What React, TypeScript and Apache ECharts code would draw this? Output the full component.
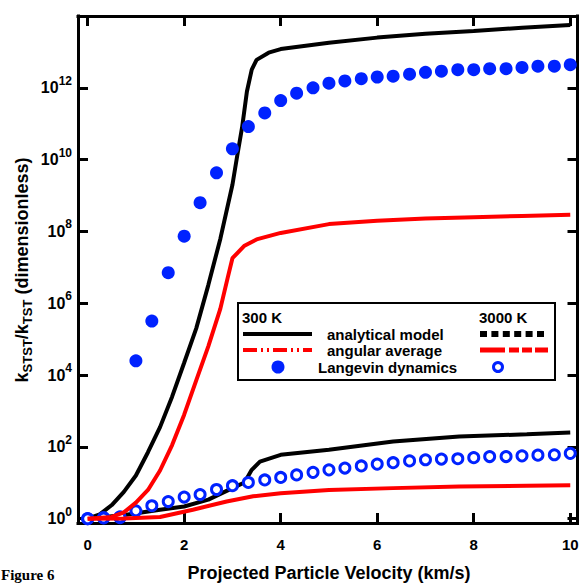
import React, { useEffect, useRef } from "react";
import * as echarts from "echarts";

// ---------- data ----------
const xTickValues = [0, 2, 4, 6, 8, 10];
const yTickExponents = [0, 2, 4, 6, 8, 10, 12];

// 300 K analytical model (black solid)
const analytical300X = [0, 0.25, 0.5, 0.75, 1.0, 1.25, 1.5, 1.75, 2.0, 2.25, 2.5, 2.75, 3.0, 3.1, 3.2, 3.3, 3.4, 3.5, 3.75, 4, 5, 6, 7, 8, 9, 10];
const analytical300Y = [1, 1.32, 2.4, 5.6, 16, 71, 355, 2.5e3, 2.2e4, 2.0e5, 3.2e6, 6.3e7, 2.0e9, 1.3e10, 7.9e10, 7.9e11, 3.2e12, 6.0e12, 9.5e12, 1.2e13, 1.8e13, 2.5e13, 3.2e13, 3.8e13, 4.7e13, 5.6e13];

// 300 K angular average (red)
const angular300X = [0, 0.5, 0.75, 1.0, 1.25, 1.5, 1.75, 2.0, 2.25, 2.5, 2.75, 2.9, 3.0, 3.25, 3.5, 4, 5, 6, 7, 8, 9, 10];
const angular300Y = [1, 1.12, 1.5, 2.8, 6.3, 22, 112, 790, 7.1e3, 6.3e4, 7.1e5, 5.0e6, 1.8e7, 4.0e7, 6.0e7, 9.1e7, 1.6e8, 2.0e8, 2.3e8, 2.5e8, 2.7e8, 2.9e8];

// 3000 K analytical model (black)
const analytical3000X = [0, 0.8, 1.5, 2.0, 2.5, 3.0, 3.25, 3.4, 3.57, 4.0, 5.0, 6.33, 7.7, 9.1, 10];
const analytical3000Y = [1, 1.29, 1.78, 2.19, 3.39, 7.1, 10.2, 22.9, 38.9, 60, 83, 141, 195, 224, 251];

// 3000 K angular average (red)
const angular3000X = [0, 0.75, 1.5, 2.18, 2.88, 3.43, 4.0, 5.0, 6.33, 7.7, 9.1, 10];
const angular3000Y = [1, 1.02, 1.12, 1.78, 3.0, 4.2, 5.1, 6.3, 7.1, 7.9, 8.3, 8.5];

// Langevin dynamics (blue markers)
const langevinX = [0, 0.33, 0.67, 1, 1.33, 1.67, 2, 2.33, 2.67, 3, 3.33, 3.67, 4, 4.33, 4.67, 5, 5.33, 5.67, 6, 6.33, 6.67, 7, 7.33, 7.67, 8, 8.33, 8.67, 9, 9.33, 9.67, 10];
const langevin300Y = [1, 1.07, 1.07, 2.5e4, 3.2e5, 7.1e6, 7.4e7, 6.3e8, 4.3e9, 2.0e10, 8.3e10, 2.0e11, 4.4e11, 7.1e11, 1.0e12, 1.35e12, 1.55e12, 1.8e12, 2.0e12, 2.1e12, 2.4e12, 2.7e12, 2.9e12, 3.2e12, 3.2e12, 3.4e12, 3.4e12, 3.7e12, 4.0e12, 4.0e12, 4.4e12];
const langevin3000Y = [1, 1.05, 1.12, 1.66, 2.3, 3.0, 4.0, 4.7, 6.5, 8.3, 10.2, 12, 14.1, 16.6, 19.5, 22.9, 25.7, 29.5, 33.1, 36.3, 40.7, 43.7, 45.7, 46.8, 50.1, 53.7, 53.7, 56.2, 58.9, 60.3, 66];

const toLogPairs = (xs: number[], ys: number[]) => xs.map((x, i) => [x, Math.log10(ys[i])]);

const BLUE = "#0022ff";
const RED = "#ff0000";
const BLACK = "#000000";
const SANS = "'Liberation Sans', Arial, Helvetica, sans-serif";

export default function App() {
  const ref = useRef<HTMLDivElement>(null);

  useEffect(() => {
    if (!ref.current) return;
    const chart = echarts.init(ref.current, null, { renderer: "svg" });

    const axisLine = { show: true, onZero: false, lineStyle: { color: BLACK, width: 3, cap: "square" } };
    const xTick = { show: true, inside: true, length: 10, customValues: xTickValues, lineStyle: { color: BLACK, width: 3 } };
    const yTick = { show: true, inside: true, length: 10, customValues: yTickExponents, lineStyle: { color: BLACK, width: 3 } };

    const legendX = 238, legendY = 303, legendW = 317, legendH = 77;
    const legendText = (text: string, x: number, y: number) => ({
      type: "text",
      x, y,
      style: { text, fill: BLACK, font: `bold 15px ${SANS}`, textAlign: "left", textVerticalAlign: "middle", align: "left", verticalAlign: "middle" },
    });

    const option: any = {
      animation: false,
      backgroundColor: "#ffffff",
      grid: { left: 78, top: 16, right: 8.5, bottom: 60, containLabel: false },
      xAxis: [
        {
          type: "value", min: -0.2, max: 10.15, position: "bottom",
          axisLine, axisTick: xTick, splitLine: { show: false },
          axisLabel: { customValues: xTickValues, color: BLACK, fontWeight: "bold", fontSize: 15, fontFamily: SANS, margin: 14 },
        },
        {
          type: "value", min: -0.2, max: 10.15, position: "top",
          axisLine, axisTick: xTick, splitLine: { show: false }, axisLabel: { show: false },
        },
      ],
      yAxis: [
        {
          type: "value", min: -0.12, max: 14, position: "left",
          axisLine, axisTick: yTick, splitLine: { show: false },
          axisLabel: {
            customValues: yTickExponents,
            margin: 6,
            formatter: (v: number) => `{b|10}{s|${v}}`,
            rich: {
              b: { fontSize: 16, fontWeight: "bold", fontFamily: SANS, color: BLACK, lineHeight: 26, verticalAlign: "middle" },
              s: { fontSize: 12, fontWeight: "bold", fontFamily: SANS, color: BLACK, lineHeight: 12, verticalAlign: "top" },
            },
          },
        },
        {
          type: "value", min: -0.12, max: 14, position: "right",
          axisLine, axisTick: yTick, splitLine: { show: false }, axisLabel: { show: false },
        },
      ],
      series: [
        {
          name: "analytical 300 K", type: "line", data: toLogPairs(analytical300X, analytical300Y),
          showSymbol: false, symbol: "none", lineStyle: { color: BLACK, width: 4 }, z: 2,
        },
        {
          name: "analytical 3000 K", type: "line", data: toLogPairs(analytical3000X, analytical3000Y),
          showSymbol: false, symbol: "none", lineStyle: { color: BLACK, width: 4 }, z: 2,
        },
        {
          name: "Langevin 300 K", type: "scatter", data: toLogPairs(langevinX, langevin300Y),
          symbol: "circle", symbolSize: 13, itemStyle: { color: BLUE, opacity: 1 }, z: 3,
        },
        {
          name: "Langevin 3000 K", type: "scatter", data: toLogPairs(langevinX, langevin3000Y),
          symbol: "circle", symbolSize: 10, itemStyle: { color: "#ffffff", borderColor: BLUE, borderWidth: 3, opacity: 1 }, z: 3,
        },
        {
          name: "angular 300 K", type: "line", data: toLogPairs(angular300X, angular300Y),
          showSymbol: false, symbol: "none", lineStyle: { color: RED, width: 4 }, z: 4,
        },
        {
          name: "angular 3000 K", type: "line", data: toLogPairs(angular3000X, angular3000Y),
          showSymbol: false, symbol: "none", lineStyle: { color: RED, width: 4 }, z: 4,
        },
      ],
      graphic: [
        // x-axis title
        {
          type: "text", x: 329, y: 573, z: 50,
          style: {
            text: "Projected Particle Velocity (km/s)", fill: BLACK, font: `bold 18px ${SANS}`,
            textAlign: "center", textVerticalAlign: "middle", align: "center", verticalAlign: "middle",
          },
        },
        // y-axis title (rotated)
        {
          type: "text", x: 22, y: 270, rotation: Math.PI / 2, z: 50,
          style: {
            text: "{n|k}{sub|STST}{n|/k}{sub|TST}{n| (dimensionless)}",
            textAlign: "center", textVerticalAlign: "middle", align: "center", verticalAlign: "middle",
            fill: BLACK,
            rich: {
              n: { fontSize: 18, fontWeight: "bold", fontFamily: SANS, fill: BLACK, color: BLACK, lineHeight: 24, verticalAlign: "middle" },
              sub: { fontSize: 13, fontWeight: "bold", fontFamily: SANS, fill: BLACK, color: BLACK, lineHeight: 12, verticalAlign: "bottom" },
            },
          },
        },
        // caption
        {
          type: "text", x: 1, y: 567, z: 50,
          style: {
            text: "Figure 6", fill: BLACK, font: `bold 15px 'Liberation Serif', 'Times New Roman', serif`,
            textAlign: "left", textVerticalAlign: "top", align: "left", verticalAlign: "top",
          },
        },
        // legend box
        {
          type: "group", z: 100,
          children: [
            {
              type: "rect", shape: { x: legendX, y: legendY, width: legendW, height: legendH },
              style: { fill: "#ffffff", stroke: BLACK, lineWidth: 2 }, z: 100,
            },
            { ...legendText("300 K", 242, 317), z: 101 },
            { ...legendText("3000 K", 479, 317), z: 101 },
            { ...legendText("analytical model", 327, 334), z: 101 },
            { ...legendText("angular average", 327, 350), z: 101 },
            { ...legendText("Langevin dynamics", 318, 367), z: 101 },
            // 300 K analytical: solid black
            { type: "line", shape: { x1: 243, y1: 334, x2: 312, y2: 334 }, style: { stroke: BLACK, lineWidth: 4 }, z: 101 },
            // 3000 K analytical: black squares
            { type: "line", shape: { x1: 480, y1: 334, x2: 548, y2: 334 }, style: { stroke: BLACK, lineWidth: 6, lineDash: [7, 4.4] }, z: 101 },
            // 300 K angular: red dash-dot-dot
            { type: "line", shape: { x1: 243, y1: 350, x2: 312, y2: 350 }, style: { stroke: RED, lineWidth: 4, lineDash: [14, 4, 2, 4, 2, 4] }, z: 101 },
            // 3000 K angular: red dashes
            { type: "line", shape: { x1: 480, y1: 350, x2: 548, y2: 350 }, style: { stroke: RED, lineWidth: 5, lineDash: [25, 4, 10, 3, 10, 3] }, z: 101 },
            // Langevin markers
            { type: "circle", shape: { cx: 278, cy: 367, r: 6.5 }, style: { fill: BLUE }, z: 101 },
            { type: "circle", shape: { cx: 498, cy: 367, r: 4.5 }, style: { fill: "#ffffff", stroke: BLUE, lineWidth: 3 }, z: 101 },
          ],
        },
      ],
    };

    chart.setOption(option);
    return () => {
      chart.dispose();
    };
  }, []);

  return (
    <div
      ref={ref}
      style={{ position: "fixed", left: 0, top: 0, width: 586, height: 583, background: "#ffffff" }}
    />
  );
}
